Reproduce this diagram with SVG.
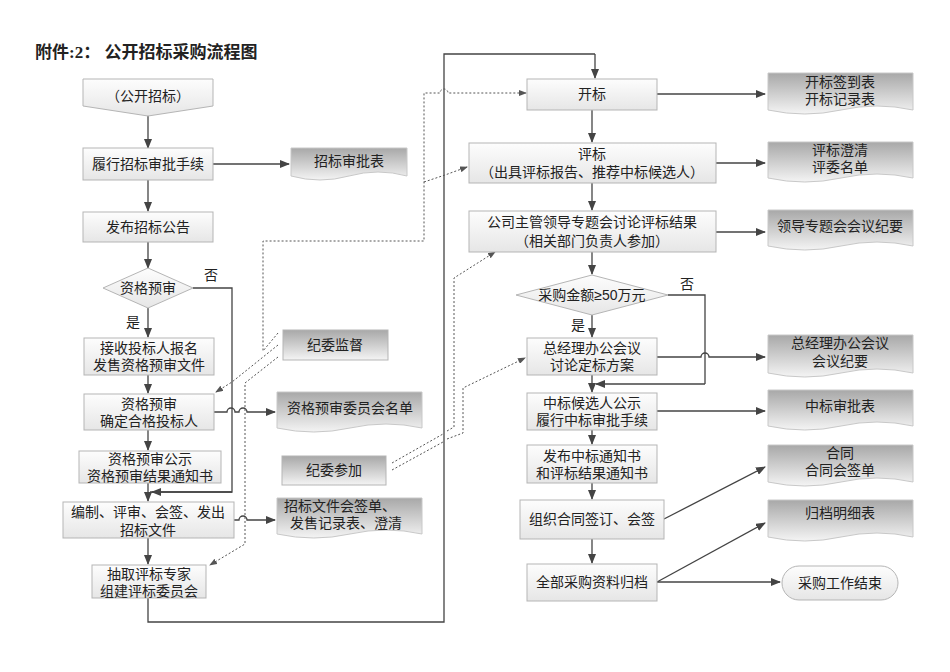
<svg xmlns="http://www.w3.org/2000/svg" width="950" height="672" viewBox="0 0 950 672">
<defs>
<linearGradient id="gb" x1="0" y1="0" x2="0" y2="1"><stop offset="0" stop-color="#fdfdfd"/><stop offset="1" stop-color="#e6e6e6"/></linearGradient>
<linearGradient id="gd" x1="0" y1="0" x2="0" y2="1"><stop offset="0" stop-color="#a8a8a8"/><stop offset="1" stop-color="#f4f4f4"/></linearGradient>
<marker id="ar" markerWidth="10" markerHeight="8" refX="9" refY="4" orient="auto" markerUnits="userSpaceOnUse"><path d="M0,0 L10,4 L0,8 z" fill="#444"/></marker>
<marker id="ad" markerWidth="8" markerHeight="6" refX="7" refY="3" orient="auto" markerUnits="userSpaceOnUse"><path d="M0,0 L8,3 L0,6 z" fill="#555"/></marker>
</defs>
<style>
text{font-family:"Liberation Sans","Noto Sans CJK SC",sans-serif;font-size:14px;fill:#222;text-anchor:middle}
.b{fill:url(#gb);stroke:#b5b5b5;stroke-width:1}
.d{fill:url(#gd);stroke:#c8c8c8;stroke-width:1}
.c{fill:none;stroke:#444;stroke-width:1.3}
.ca{fill:none;stroke:#444;stroke-width:1.3;marker-end:url(#ar)}
.dt{fill:none;stroke:#555;stroke-width:1;stroke-dasharray:2,2;marker-end:url(#ad)}
.dn{fill:none;stroke:#555;stroke-width:1;stroke-dasharray:2,2}
</style>
<rect width="950" height="672" fill="#fff"/>
<text x="35" y="58" style="text-anchor:start;font-weight:bold;font-size:17px;font-family:'Liberation Serif','Noto Sans CJK SC',serif">附件:2：  公开招标采购流程图</text>

<g id="connectors">
<path class="ca" d="M148,114 V148"/>
<path class="ca" d="M213,164 H289"/>
<path class="ca" d="M148,180 V211"/>
<path class="ca" d="M148,242 V268"/>
<path class="ca" d="M148,308 V337"/>
<path class="c" d="M193,288 H232 V492 H150"/>
<path class="ca" d="M232,492 H152"/>
<path class="ca" d="M148,375 V393"/>
<path class="ca" d="M214,412 H227 a4,4 0 0 1 8,0 H239 a4,4 0 0 1 8,0 H275"/>
<path class="ca" d="M148,430 V450"/>
<path class="ca" d="M148,483 V501"/>
<path class="ca" d="M234,520 H239 a4,4 0 0 1 8,0 H275"/>
<path class="ca" d="M148,538 V564"/>
<path class="c" d="M148,598 V622 H444 V54 H595"/>
<path class="ca" d="M595,54 V78"/>
<path class="ca" d="M657,94 H765"/>
<path class="ca" d="M592,110 V142"/>
<path class="ca" d="M716,163 H765"/>
<path class="ca" d="M592,183 V210"/>
<path class="ca" d="M716,232 H765"/>
<path class="ca" d="M592,252 V274"/>
<path class="c" d="M668,295 H705 V384"/>
<path class="ca" d="M705,384 H596"/>
<path class="ca" d="M592,315 V337"/>
<path class="ca" d="M657,357 H701 a4,4 0 0 1 8,0 H765"/>
<path class="ca" d="M592,375 V392"/>
<path class="ca" d="M657,411 H765"/>
<path class="ca" d="M592,430 V444"/>
<path class="ca" d="M592,483 V499"/>
<path class="ca" d="M664,519 L765,467"/>
<path class="ca" d="M592,539 V563"/>
<path class="ca" d="M657,582 L765,523"/>
<path class="ca" d="M657,582 H780"/>
<path class="dt" d="M278,333 L263,351 V241 H424 V93 H440 a4,4 0 0 1 8,0 H526"/>
<path class="dt" d="M424,182 L445,175 L467,167"/>
<path class="dt" d="M278,345 L232,382 L216,392"/>
<path class="dt" d="M278,357 L245,383 V544 L210,565"/>
<path class="dn" d="M392,463 L443,434"/>
<path class="dt" d="M447,431 L454,427 V278 L495,252"/>
<path class="dn" d="M392,470 L443,442"/>
<path class="dt" d="M447,439 L463,433 V388 L525,358"/>
</g>

<g id="n-start"><path class="b" d="M83,79 H213 V106 L148,116 L83,106 Z"/><text x="148" y="101">（公开招标）</text></g>
<g id="n-lxzb"><rect class="b" x="83" y="148" width="130" height="32"/><text x="148" y="169">履行招标审批手续</text></g>
<g id="d-zbspb"><path class="d" d="M291,148 H407 V176 Q378,168 349,176 T291,176 Z"/><text x="349" y="166">招标审批表</text></g>
<g id="n-fbgg"><rect class="b" x="83" y="212" width="130" height="30"/><text x="148" y="232">发布招标公告</text></g>
<g id="n-zgys"><path class="b" d="M148,268 L193,288 L148,308 L103,288 Z"/><text x="148" y="293">资格预审</text></g>
<text x="211" y="280">否</text>
<text x="133" y="327">是</text>
<g id="n-jsbm"><rect class="b" x="84" y="338" width="130" height="37"/><text x="149" y="353">接收投标人报名</text><text x="149" y="370">发售资格预审文件</text></g>
<g id="n-zgys2"><rect class="b" x="84" y="394" width="130" height="36"/><text x="149" y="409">资格预审</text><text x="149" y="426">确定合格投标人</text></g>
<g id="d-zgmd"><path class="d" d="M277,392 H422 V428 Q386,420 350,428 T277,428 Z"/><text x="350" y="413">资格预审委员会名单</text></g>
<g id="n-zggs"><rect class="b" x="79" y="451" width="142" height="32"/><text x="150" y="464">资格预审公示</text><text x="150" y="481">资格预审结果通知书</text></g>
<g id="n-bzzb"><rect class="b" x="63" y="502" width="171" height="36"/><text x="148" y="517">编制、评审、会签、发出</text><text x="148" y="535">招标文件</text></g>
<g id="d-zbwj"><path class="d" d="M277,498 H422 V534 Q386,526 350,534 T277,534 Z"/><text x="340" y="511">招标文件会签单、</text><text x="346" y="528">发售记录表、澄清</text></g>
<g id="n-cqzj"><rect class="b" x="92" y="565" width="114" height="33"/><text x="149" y="579">抽取评标专家</text><text x="149" y="596">组建评标委员会</text></g>
<g id="n-jwjd"><rect class="b" x="283" y="330" width="105" height="30" style="fill:url(#gd)"/><text x="335" y="350">纪委监督</text></g>
<g id="n-jwcj"><rect class="b" x="282" y="456" width="104" height="29" style="fill:url(#gd)"/><text x="334" y="475">纪委参加</text></g>

<g id="n-kb"><rect class="b" x="527" y="79" width="130" height="31"/><text x="592" y="99">开标</text></g>
<g id="d-kb"><path class="d" d="M768,73 H913 V110 Q877,102 841,110 T768,110 Z"/><text x="840" y="87">开标签到表</text><text x="840" y="104">开标记录表</text></g>
<g id="n-pb"><rect class="b" x="469" y="143" width="247" height="40"/><text x="592" y="159">评标</text><text x="592" y="177">（出具评标报告、推荐中标候选人）</text></g>
<g id="d-pb"><path class="d" d="M768,142 H913 V178 Q877,170 841,178 T768,178 Z"/><text x="840" y="155">评标澄清</text><text x="840" y="172">评委名单</text></g>
<g id="n-zt"><rect class="b" x="469" y="211" width="247" height="41"/><text x="592" y="227">公司主管领导专题会讨论评标结果</text><text x="592" y="246">（相关部门负责人参加）</text></g>
<g id="d-zt"><path class="d" d="M768,210 H913 V246 Q877,238 841,246 T768,246 Z"/><text x="840" y="231">领导专题会会议纪要</text></g>
<g id="n-je"><path class="b" d="M592,275 L668,295 L592,315 L516,295 Z"/><text x="592" y="300">采购金额≥50万元</text></g>
<text x="687" y="289">否</text>
<text x="578" y="330">是</text>
<g id="n-zjl"><rect class="b" x="527" y="338" width="130" height="37"/><text x="592" y="353">总经理办公会议</text><text x="592" y="370">讨论定标方案</text></g>
<g id="d-zjl"><path class="d" d="M768,335 H913 V373 Q877,365 841,373 T768,373 Z"/><text x="840" y="348">总经理办公会议</text><text x="840" y="366">会议纪要</text></g>
<g id="n-zbhx"><rect class="b" x="527" y="393" width="130" height="37"/><text x="592" y="408">中标候选人公示</text><text x="592" y="425">履行中标审批手续</text></g>
<g id="d-zbsp"><path class="d" d="M768,390 H913 V426 Q877,418 841,426 T768,426 Z"/><text x="840" y="411">中标审批表</text></g>
<g id="n-tzs"><rect class="b" x="527" y="445" width="130" height="38"/><text x="592" y="461">发布中标通知书</text><text x="592" y="478">和评标结果通知书</text></g>
<g id="d-ht"><path class="d" d="M768,445 H913 V482 Q877,474 841,482 T768,482 Z"/><text x="840" y="458">合同</text><text x="840" y="475">合同会签单</text></g>
<g id="n-htqd"><rect class="b" x="520" y="500" width="144" height="39"/><text x="592" y="524">组织合同签订、会签</text></g>
<g id="d-gd"><path class="d" d="M768,500 H913 V537 Q877,529 841,537 T768,537 Z"/><text x="840" y="518">归档明细表</text></g>
<g id="n-gd"><rect class="b" x="527" y="564" width="130" height="37"/><text x="592" y="587">全部采购资料归档</text></g>
<g id="n-end"><rect class="b" x="782" y="566" width="116" height="34" rx="17"/><text x="840" y="588">采购工作结束</text></g>
</svg>
